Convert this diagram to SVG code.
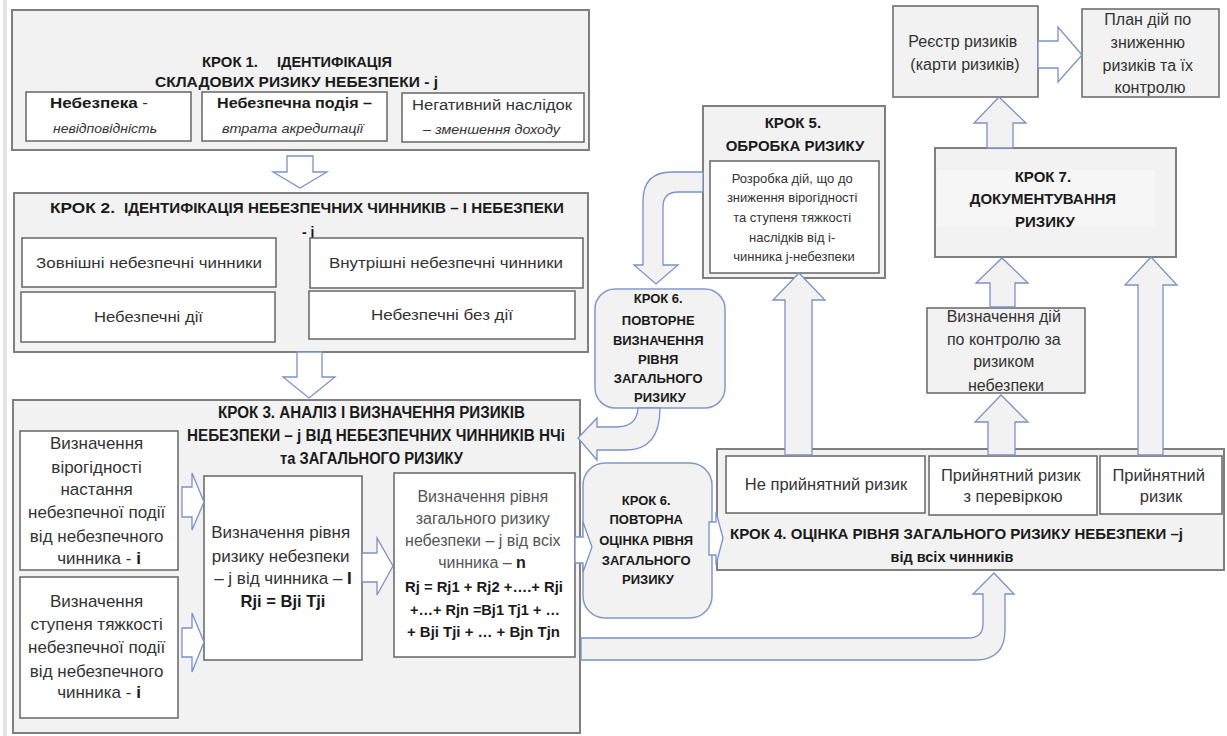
<svg xmlns="http://www.w3.org/2000/svg" width="1227" height="736" viewBox="0 0 1227 736">
<style>
.ob{fill:#f2f2f2;stroke:#7f7f7f;stroke-width:2}
.ib{fill:#ffffff;stroke:#666666;stroke-width:1.5}
.gb{fill:#f2f2f2;stroke:#666666;stroke-width:1.5}
.rb{fill:#f2f2f2;stroke:#8299c8;stroke-width:1.5}
.ar{fill:#f2f2f2;stroke:#7a92c6;stroke-width:1.3}
.aw{fill:#ffffff;stroke:#7a92c6;stroke-width:1.3}
text{font-family:"Liberation Sans",Arial,sans-serif}
.t{font-weight:bold;fill:#1a1a1a}
.n{fill:#333333}
.g{fill:#555555}
.i{font-style:italic;fill:#333333}
</style>
<rect x="0" y="0" width="1227" height="736" fill="#ffffff"/>
<rect x="3" y="0" width="4" height="736" fill="#e3e3e3"/>

<g id="step1">
<rect class="ob" x="12" y="10" width="577" height="140"/>
<text class="t" x="202" y="67" font-size="15" textLength="56" lengthAdjust="spacingAndGlyphs">КРОК 1.</text>
<text class="t" x="277" y="67" font-size="15" textLength="115" lengthAdjust="spacingAndGlyphs">ІДЕНТИФІКАЦІЯ</text>
<text class="t" x="155" y="87" font-size="15" textLength="283" lengthAdjust="spacingAndGlyphs">СКЛАДОВИХ РИЗИКУ НЕБЕЗПЕКИ - j</text>
<rect class="ib" x="26" y="92" width="165" height="49"/>
<text x="50" y="108" font-size="14" textLength="98" lengthAdjust="spacingAndGlyphs"><tspan class="t" fill="#1a1a1a">Небезпека</tspan><tspan class="n"> -</tspan></text>
<text class="i" x="53" y="133" font-size="12" textLength="104" lengthAdjust="spacingAndGlyphs">невідповідність</text>
<rect class="ib" x="202" y="92" width="185" height="49"/>
<text class="t" x="217" y="108" font-size="14" textLength="155" lengthAdjust="spacingAndGlyphs">Небезпечна подія –</text>
<text class="i" x="222" y="133" font-size="12" textLength="141" lengthAdjust="spacingAndGlyphs">втрата акредитації</text>
<rect class="ib" x="402" y="93" width="182" height="49"/>
<text class="n" x="412" y="110" font-size="14" textLength="160" lengthAdjust="spacingAndGlyphs">Негативний наслідок</text>
<text class="i" x="423" y="134" font-size="12" textLength="137" lengthAdjust="spacingAndGlyphs">– зменшення доходу</text>
</g>

<g id="step2">
<rect class="ob" x="14" y="193" width="574" height="159"/>
<text class="t" x="50" y="213" font-size="14" textLength="65" lengthAdjust="spacingAndGlyphs">КРОК 2.</text>
<text class="t" x="124" y="213" font-size="14" textLength="440" lengthAdjust="spacingAndGlyphs">ІДЕНТИФІКАЦІЯ НЕБЕЗПЕЧНИХ ЧИННИКІВ – І НЕБЕЗПЕКИ</text>
<text class="t" x="302" y="237" font-size="14">- j</text>
<rect class="ib" x="22" y="238" width="254" height="49"/>
<text class="n" x="36" y="268" font-size="15" textLength="226" lengthAdjust="spacingAndGlyphs">Зовнішні небезпечні чинники</text>
<rect class="ib" x="310" y="238" width="273" height="50"/>
<text class="n" x="329" y="268" font-size="15" textLength="234" lengthAdjust="spacingAndGlyphs">Внутрішні небезпечні чинники</text>
<rect class="ib" x="21" y="292" width="254" height="50"/>
<text class="n" x="94" y="322" font-size="15" textLength="109" lengthAdjust="spacingAndGlyphs">Небезпечні дії</text>
<rect class="ib" x="309" y="291" width="266" height="48"/>
<text class="n" x="371" y="320" font-size="15" textLength="142" lengthAdjust="spacingAndGlyphs">Небезпечні без дії</text>
</g>

<g id="step3">
<rect class="ob" x="13" y="400" width="567" height="333"/>
<text class="t" x="218" y="418" font-size="16" textLength="307" lengthAdjust="spacingAndGlyphs">КРОК 3. АНАЛІЗ І ВИЗНАЧЕННЯ РИЗИКІВ</text>
<text class="t" x="187" y="441" font-size="16" textLength="378" lengthAdjust="spacingAndGlyphs">НЕБЕЗПЕКИ – j ВІД НЕБЕЗПЕЧНИХ ЧИННИКІВ НЧі</text>
<text class="t" x="280" y="464" font-size="16" textLength="183" lengthAdjust="spacingAndGlyphs">та ЗАГАЛЬНОГО РИЗИКУ</text>
</g>

<g id="probability">
<rect class="ib" x="20" y="431" width="158" height="139"/>
<text class="n" font-size="17" text-anchor="middle">
<tspan x="99" y="449">Визначення</tspan>
<tspan x="99" y="473">вірогідності</tspan>
<tspan x="99" y="495">настання</tspan>
<tspan x="99" y="518">небезпечної події</tspan>
<tspan x="99" y="542">від небезпечного</tspan>
<tspan x="99" y="564">чинника - <tspan font-weight="bold" fill="#1a1a1a">і</tspan></tspan>
</text>
</g>

<g id="severity">
<rect class="ib" x="20" y="577" width="158" height="141"/>
<text class="n" font-size="17" text-anchor="middle">
<tspan x="99" y="607">Визначення</tspan>
<tspan x="99" y="630">ступеня тяжкості</tspan>
<tspan x="99" y="653">небезпечної події</tspan>
<tspan x="99" y="677">від небезпечного</tspan>
<tspan x="99" y="698">чинника - <tspan font-weight="bold" fill="#1a1a1a">і</tspan></tspan>
</text>
</g>

<g id="risk-level">
<rect class="ib" x="204" y="476" width="158" height="184"/>
<text class="n" font-size="17" text-anchor="middle">
<tspan x="283" y="538">Визначення рівня</tspan>
<tspan x="283" y="562">ризику небезпеки</tspan>
<tspan x="283" y="584">– j від чинника – <tspan font-weight="bold" fill="#1a1a1a">І</tspan></tspan>
</text>
<text class="t" x="283" y="607" font-size="16.5" text-anchor="middle">Rji = Bji Tji</text>
</g>

<g id="total-risk">
<rect class="ib" x="394" y="473" width="181" height="184"/>
<text class="g" font-size="16" text-anchor="middle">
<tspan x="485" y="502">Визначення рівня</tspan>
<tspan x="485" y="524">загального ризику</tspan>
<tspan x="485" y="546">небезпеки – j від всіх</tspan>
<tspan x="482" y="568">чинника – <tspan font-weight="bold" fill="#1a1a1a">n</tspan></tspan>
</text>
<text class="t" x="405" y="592" font-size="15" textLength="158" lengthAdjust="spacingAndGlyphs">Rj = Rj1 + Rj2 +….+ Rji</text>
<text class="t" x="410" y="615" font-size="15" textLength="150" lengthAdjust="spacingAndGlyphs">+…+ Rjn =Bj1 Tj1 + …</text>
<text class="t" x="407" y="637" font-size="15" textLength="153" lengthAdjust="spacingAndGlyphs">+ Bji Tji + … + Bjn Tjn</text>
</g>

<g id="step6-reassess">
<rect class="rb" x="583" y="463" width="129" height="155" rx="22" ry="22"/>
<text class="t" font-size="13" text-anchor="middle">
<tspan x="648" y="505">КРОК 6.</tspan>
<tspan x="648" y="524">ПОВТОРНА</tspan>
<tspan x="648" y="545">ОЦІНКА РІВНЯ</tspan>
<tspan x="648" y="565">ЗАГАЛЬНОГО</tspan>
<tspan x="648" y="584">РИЗИКУ</tspan>
</text>
</g>

<g id="step6-redefine">
<rect class="rb" x="595" y="289" width="130" height="119" rx="20" ry="20"/>
<text class="t" font-size="13" text-anchor="middle">
<tspan x="660" y="303">КРОК 6.</tspan>
<tspan x="660" y="325">ПОВТОРНЕ</tspan>
<tspan x="660" y="345">ВИЗНАЧЕННЯ</tspan>
<tspan x="660" y="364">РІВНЯ</tspan>
<tspan x="660" y="383">ЗАГАЛЬНОГО</tspan>
<tspan x="660" y="402">РИЗИКУ</tspan>
</text>
</g>

<g id="step5">
<rect class="ob" x="703" y="106" width="182" height="172"/>
<text class="t" font-size="15" text-anchor="middle">
<tspan x="795" y="128">КРОК 5.</tspan>
<tspan x="795" y="151">ОБРОБКА РИЗИКУ</tspan>
</text>
<rect class="ib" x="710" y="161" width="169" height="112"/>
<text class="n" font-size="13" text-anchor="middle">
<tspan x="794" y="183">Розробка дій, що до</tspan>
<tspan x="794" y="202">зниження вірогідності</tspan>
<tspan x="794" y="222">та ступеня тяжкості</tspan>
<tspan x="794" y="242">наслідків від і-</tspan>
<tspan x="794" y="261">чинника j-небезпеки</tspan>
</text>
</g>

<g id="step4">
<rect class="ob" x="717" y="449" width="507" height="121"/>
<rect class="ib" x="726" y="456" width="199" height="57"/>
<text class="n" x="826" y="490" font-size="16.5" text-anchor="middle">Не прийнятний ризик</text>
<rect class="ib" x="929" y="456" width="168" height="59"/>
<text class="n" font-size="16.5" text-anchor="middle">
<tspan x="1013" y="481">Прийнятний ризик</tspan>
<tspan x="1013" y="502">з перевіркою</tspan>
</text>
<rect class="ib" x="1100" y="456" width="122" height="58"/>
<text class="n" font-size="16.5" text-anchor="middle">
<tspan x="1161" y="481">Прийнятний</tspan>
<tspan x="1161" y="502">ризик</tspan>
</text>
<text class="t" x="730" y="539" font-size="15" textLength="453" lengthAdjust="spacingAndGlyphs">КРОК 4. ОЦІНКА РІВНЯ ЗАГАЛЬНОГО РИЗИКУ НЕБЕЗПЕКИ –j</text>
<text class="t" x="952" y="562" font-size="14.5" text-anchor="middle">від всіх чинників</text>
</g>

<g id="control-actions">
<rect class="gb" x="927" y="308" width="158" height="85"/>
<text class="n" font-size="16" text-anchor="middle">
<tspan x="1006" y="322">Визначення дій</tspan>
<tspan x="1006" y="345">по контролю за</tspan>
<tspan x="1006" y="367">ризиком</tspan>
<tspan x="1006" y="391">небезпеки</tspan>
</text>
</g>

<g id="step7">
<rect class="ob" x="935" y="148" width="241" height="109"/>
<rect x="937" y="170" width="218" height="57" fill="#f6f6f6"/>
<text class="t" font-size="15" text-anchor="middle">
<tspan x="1045" y="182">КРОК 7.</tspan>
<tspan x="1045" y="204">ДОКУМЕНТУВАННЯ</tspan>
<tspan x="1045" y="227">РИЗИКУ</tspan>
</text>
</g>

<g id="register">
<rect class="gb" x="893" y="6" width="145" height="91"/>
<text class="n" font-size="16" text-anchor="middle">
<tspan x="965" y="47">Реєстр ризиків</tspan>
<tspan x="965" y="70">(карти ризиків)</tspan>
</text>
</g>

<g id="plan">
<rect class="gb" x="1082" y="9" width="137" height="88"/>
<text class="n" font-size="16" text-anchor="middle">
<tspan x="1150" y="25">План дій по</tspan>
<tspan x="1150" y="48">зниженню</tspan>
<tspan x="1150" y="71">ризиків та їх</tspan>
<tspan x="1150" y="93">контролю</tspan>
</text>
</g>

<g id="connectors">
<polygon class="aw" points="287,156 313,156 313,172 327,172 300,188 273,172 287,172"/>
<polygon class="aw" points="297,352 322,352 322,377 335,377 309,398 283,377 297,377"/>
<polygon class="aw" points="182,487 192,487 192,473 204,502 192,530 192,517 182,517"/>
<polygon class="aw" points="182,628 192,628 192,613 204,642 192,672 192,657 182,657"/>
<polygon class="aw" points="362,553 377,553 377,538 393,566 377,595 377,582 362,582"/>
<polygon class="aw" points="575,537 583,537 583,522 592,547 583,572 583,563 575,563"/>
<polygon class="aw" points="709,522 716,522 716,512 723,538 716,565 716,555 709,555"/>
<polygon class="ar" points="785,455 785,300 773,300 799,273 825,300 812,300 812,455"/>
<polygon class="ar" points="988,455 988,422 975,422 1001,395 1028,422 1015,422 1015,455"/>
<polygon class="ar" points="990,307 990,283 976,283 1002,258 1028,283 1015,283 1015,307"/>
<polygon class="ar" points="1138,455 1138,285 1125,285 1151,257 1177,285 1163,285 1163,455"/>
<polygon class="ar" points="987,148 987,123 974,123 999,97 1026,123 1013,123 1013,148"/>
<polygon class="aw" points="1038,41 1058,41 1058,27 1082,55 1058,82 1058,68 1038,68"/>
<path class="ar" d="M703,172 L672,172 Q643,172 643,201 L643,265 L634,265 L656,284 L678,265 L663,265 L663,207 Q663,192 678,192 L703,192 Z"/>
<path class="ar" d="M638,408 Q637,427 616,427 L597,427 L597,418 L578,438 L597,460 L597,450 L626,450 Q660,450 660,408 Z"/>
<path class="ar" d="M581,638 L968,638 Q983,638 983,624 L983,594 L973,594 L994,573 L1014,594 L1005,594 L1005,630 Q1005,660 975,660 L581,660 Z"/>
</g>
</svg>
